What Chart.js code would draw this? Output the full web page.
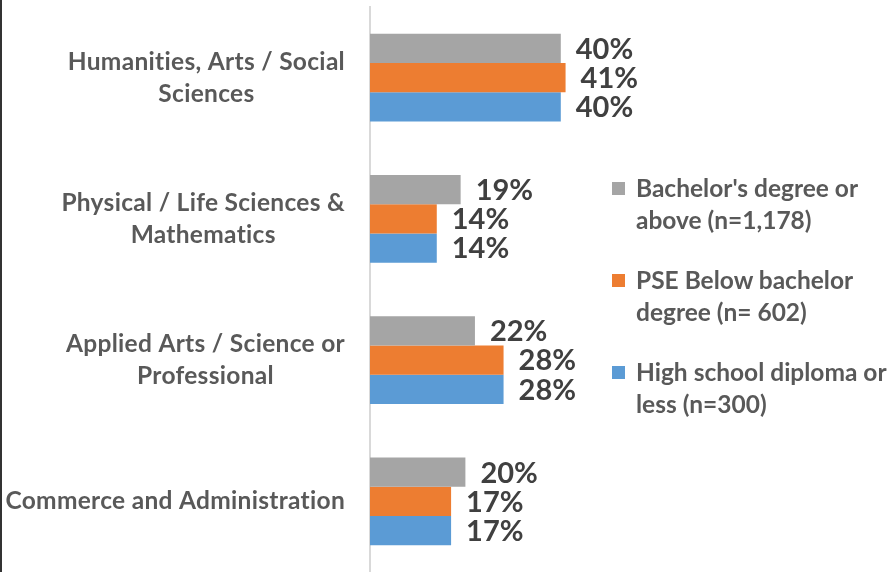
<!DOCTYPE html>
<html>
<head>
<meta charset="utf-8">
<script src="https://cdn.jsdelivr.net/npm/chart.js@4"></script>
<style>
  html, body { margin: 0; padding: 0; background: #fff; }
  #wrap { position: relative; width: 890px; height: 572px; border-left: 2px solid #333; overflow: hidden; }
  #chartBox { position: absolute; left: 0; top: 0; width: 650px; height: 572px; }
  #legend { position: absolute; left: 610px; top: 172px; font-family: Lato, "Open Sans", sans-serif; font-weight: bold; font-size: 24.5px; color: #595959; font-variant-ligatures: none; }
  .item { position: relative; padding-left: 24px; line-height: 32px; margin-bottom: 28px; width: 280px; white-space: nowrap; }
  .item span.box { position: absolute; left: 0; top: 10px; width: 13px; height: 13px; }
</style>
</head>
<body>
<div id="wrap">
  <div id="chartBox"><canvas id="barChart"></canvas></div>
  <div id="legend"></div>
</div>
<script>
const categories = [
  ['Humanities, Arts / Social', 'Sciences'],
  ['Physical / Life Sciences &', 'Mathematics'],
  ['Applied Arts / Science or', 'Professional'],
  ['Commerce and Administration']
];
const seriesNames = [
  ['Bachelor\'s degree or', 'above (n=1,178)'],
  ['PSE Below bachelor', 'degree (n= 602)'],
  ['High school diploma or', 'less (n=300)']
];
const bachelorValues = [40, 19, 22, 20];
const pseValues = [41, 14, 28, 17];
const highSchoolValues = [40, 14, 28, 17];
const seriesColors = ['#a5a5a5', '#ed7d31', '#5b9bd5'];

const FONT = 'Lato, "Open Sans", sans-serif';

// multi-line category labels, lines centred on each other, block right-aligned
const categoryLabels = {
  id: 'categoryLabels',
  afterDraw(chart) {
    const ctx = chart.ctx;
    const yScale = chart.scales.y;
    const right = chart.chartArea.left - 25;
    ctx.save();
    ctx.font = 'bold 24.5px ' + FONT;
    ctx.letterSpacing = '0.3px';
    ctx.fillStyle = '#595959';
    ctx.textAlign = 'center';
    ctx.textBaseline = 'middle';
    categories.forEach((lines, i) => {
      const w = Math.max(...lines.map(l => ctx.measureText(l).width));
      const cx = right - w / 2;
      const cy = yScale.getPixelForTick(i);
      const lh = 32;
      lines.forEach((l, j) => {
        ctx.fillText(l, cx, cy + (j - (lines.length - 1) / 2) * lh);
      });
    });
    ctx.restore();
  }
};

const valueLabels = {
  id: 'valueLabels',
  afterDatasetsDraw(chart) {
    const ctx = chart.ctx;
    ctx.save();
    ctx.font = 'bold 29px ' + FONT;
    ctx.fillStyle = '#404040';
    ctx.textAlign = 'left';
    ctx.textBaseline = 'middle';
    chart.data.datasets.forEach((ds, di) => {
      chart.getDatasetMeta(di).data.forEach((bar, i) => {
        ctx.fillText(ds.data[i] + '%', bar.x + 15, bar.y + 1);
      });
    });
    ctx.restore();
  }
};

new Chart(document.getElementById('barChart'), {
  type: 'bar',
  data: {
    labels: categories,
    datasets: [
      { label: seriesNames[0].join(' '), data: bachelorValues, backgroundColor: seriesColors[0] },
      { label: seriesNames[1].join(' '), data: pseValues, backgroundColor: seriesColors[1] },
      { label: seriesNames[2].join(' '), data: highSchoolValues, backgroundColor: seriesColors[2] }
    ]
  },
  options: {
    indexAxis: 'y',
    responsive: true,
    maintainAspectRatio: false,
    animation: false,
    layout: { padding: { top: 7, bottom: 0, left: 0, right: 43.5 } },
    datasets: { bar: { barPercentage: 1, categoryPercentage: 0.62 } },
    plugins: { legend: { display: false }, tooltip: { enabled: false } },
    scales: {
      x: { display: false, min: 0, max: 50 },
      y: {
        ticks: { display: false },
        grid: { display: false },
        border: { display: true, color: '#d9d9d9', width: 2 },
        afterFit(scale) { scale.width = 368; }
      }
    }
  },
  plugins: [categoryLabels, valueLabels]
});

const legendEl = document.getElementById('legend');
seriesNames.forEach((lines, i) => {
  const div = document.createElement('div');
  div.className = 'item';
  div.innerHTML = '<span class="box" style="background:' + seriesColors[i] + '"></span>' + lines.join('<br>');
  legendEl.appendChild(div);
});
</script>
</body>
</html>
